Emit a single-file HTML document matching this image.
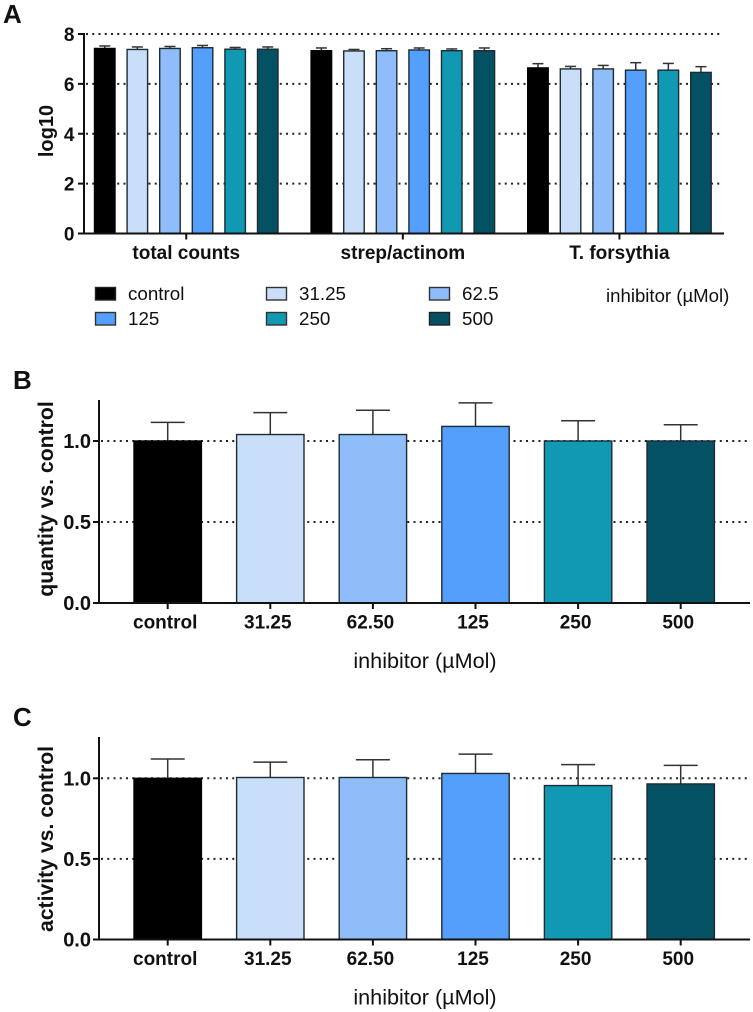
<!DOCTYPE html>
<html lang="en">
<head>
<meta charset="utf-8">
<title>Inhibitor effect on counts, quantity and activity</title>
<style>
html,body{margin:0;padding:0;background:#fff;width:753px;height:1012px;overflow:hidden}
svg{display:block}
text{font-family:"Liberation Sans",sans-serif;fill:#111}
.b{font-weight:700}
</style>
</head>
<body>
<svg id="fig" xmlns="http://www.w3.org/2000/svg" width="753" height="1012" viewBox="0 0 753 1012">
  <text class="b" x="3" y="23" font-size="26">A</text>
  <text class="b" x="13" y="389" font-size="26">B</text>
  <text class="b" x="13" y="726" font-size="26">C</text>
  <text x="128" y="300" font-size="18.8">control</text>
  <text x="299" y="300" font-size="18.8">31.25</text>
  <text x="462" y="300" font-size="18.8">62.5</text>
  <text x="128" y="325" font-size="18.8">125</text>
  <text x="299" y="325" font-size="18.8">250</text>
  <text x="462" y="325" font-size="18.8">500</text>
  <text x="606" y="302" font-size="18.6">inhibitor (µMol)</text>
  <rect x="95.5" y="287.5" width="20" height="12.5" fill="#000000" stroke="#222" stroke-width="1.4"/>
  <rect x="266.5" y="287.5" width="20" height="12.5" fill="#c9dff9" stroke="#333" stroke-width="1.4"/>
  <rect x="429.5" y="287.5" width="20" height="12.5" fill="#8fbdf9" stroke="#333" stroke-width="1.4"/>
  <rect x="95.5" y="312.5" width="20" height="12.5" fill="#559ffc" stroke="#333" stroke-width="1.4"/>
  <rect x="266.5" y="312.5" width="20" height="12.5" fill="#1199b4" stroke="#333" stroke-width="1.4"/>
  <rect x="429.5" y="312.5" width="20" height="12.5" fill="#045164" stroke="#222" stroke-width="1.4"/>
</svg>
<script>
const concentrationKeys = ['control', '31.25', '62.5', '125', '250', '500'];
const barColors = ['#000000', '#c9dff9', '#8fbdf9', '#559ffc', '#1199b4', '#045164'];

const groupLabels = ['total counts', 'strep/actinom', 'T. forsythia'];
const totalCounts = [7.42, 7.38, 7.42, 7.45, 7.39, 7.39];
const totalCountsErr = [7.52, 7.48, 7.50, 7.54, 7.46, 7.48];
const strepActinom = [7.33, 7.32, 7.33, 7.36, 7.33, 7.33];
const strepActinomErr = [7.44, 7.38, 7.41, 7.44, 7.40, 7.44];
const forsythia = [6.64, 6.60, 6.60, 6.55, 6.55, 6.46];
const forsythiaErr = [6.81, 6.70, 6.74, 6.85, 6.82, 6.69];
const ticksA = [0, 2, 4, 6, 8];
const gridA = [2, 4, 6, 8];

const doseLabels = ['control', '31.25', '62.50', '125', '250', '500'];
const quantity = [1.00, 1.04, 1.04, 1.09, 1.00, 1.00];
const quantityErr = [1.115, 1.175, 1.19, 1.235, 1.125, 1.10];
const activity = [1.00, 1.005, 1.005, 1.03, 0.955, 0.965];
const activityErr = [1.12, 1.10, 1.115, 1.15, 1.085, 1.08];
const ticksBC = ['0.0', '0.5', '1.0'];
const gridBC = [0.5, 1.0];

const NS = 'http://www.w3.org/2000/svg';
const fig = document.getElementById('fig');

function make(tag, attrs, text) {
  const el = document.createElementNS(NS, tag);
  for (const k in attrs) el.setAttribute(k, attrs[k]);
  if (text !== undefined) el.textContent = text;
  fig.appendChild(el);
  return el;
}

function drawBar(name, x, w, yTop, yBase, yErr, capW, color) {
  const mid = x + w / 2;
  const v = make('line', {x1: mid, x2: mid, y1: yErr, y2: yTop, stroke: '#333', 'stroke-width': 1.5});
  
  
  const c = make('line', {x1: mid - capW / 2, x2: mid + capW / 2, y1: yErr, y2: yErr, stroke: '#333', 'stroke-width': 1.5});
  
  
  const r = make('rect', {x: x, y: yTop, width: w, height: yBase - yTop, fill: color, stroke: color === '#000000' ? '#000' : '#1d2b33', 'stroke-width': 1.4});
  
  
}

function drawGrid(name, x1, x2, y) {
  const g = make('line', {x1: x1, x2: x2, y1: y, y2: y, stroke: '#222', 'stroke-width': 2, 'stroke-dasharray': '2 4.25'});
  
  
}

function drawAxisLine(name, x1, y1, x2, y2) {
  const a = make('line', {x1: x1, y1: y1, x2: x2, y2: y2, stroke: '#111', 'stroke-width': 2});
  
  
}

/* Panel A */
const yA = v => 233.5 - v * (199.5 / 8);
const groupX = g => 94.5 + g * 216.6;
const barXA = (g, i) => groupX(g) + i * 32.6;
const seriesA = [totalCounts, strepActinom, forsythia];
const errorsA = [totalCountsErr, strepActinomErr, forsythiaErr];

gridA.forEach(function (v) {
  drawGrid('grid-a-' + v, 86, 720, yA(v));
});
seriesA.forEach(function (vals, g) {
  vals.forEach(function (v, i) {
    drawBar('bar-a-' + g + '-' + concentrationKeys[i], barXA(g, i), 20.5, yA(v), yA(0), yA(errorsA[g][i]), 11, barColors[i]);
  });
});
drawAxisLine('y-axis-a', 84, yA(8) - 1, 84, yA(0) + 1);
drawAxisLine('x-axis-a', 78, yA(0), 724, yA(0));
ticksA.forEach(function (v) {
  drawAxisLine('y-tick-a-' + v, 78, yA(v), 84, yA(v));
  const t = make('text', {x: 74.5, y: yA(v) + 7, 'font-size': 19, 'text-anchor': 'end', class: 'b'}, String(v));
  
  
});
groupLabels.forEach(function (label, g) {
  const cx = barXA(g, 0) + (5 * 32.6 + 20.5) / 2;
  drawAxisLine('x-tick-a-' + g, cx, yA(0), cx, yA(0) + 6);
  const t = make('text', {x: cx, y: 259, 'font-size': 19, 'text-anchor': 'middle', class: 'b'}, label);
  
  
});
const titleA = make('text', {transform: 'translate(53 131) rotate(-90)', 'font-size': 20, 'text-anchor': 'middle', class: 'b'}, 'log10');



/* Panels B and C */
function drawDosePanel(p, y0, yOne, yTopAxis, vals, errs, yTitle, titleCy) {
  const y = v => y0 - v * (y0 - yOne);
  const cx = i => 167.7 + i * 102.6;
  gridBC.forEach(function (v) {
    drawGrid('grid-' + p + '-' + v, 101, 750, y(v));
  });
  vals.forEach(function (v, i) {
    drawBar('bar-' + p + '-' + doseLabels[i], cx(i) - 33.7, 67.4, y(v), y(0), y(errs[i]), 34, barColors[i]);
  });
  drawAxisLine('y-axis-' + p, 99, yTopAxis, 99, y(0) + 1);
  drawAxisLine('x-axis-' + p, 93, y(0), 750, y(0));
  ticksBC.forEach(function (label) {
    const v = parseFloat(label);
    drawAxisLine('y-tick-' + p + '-' + label, 93, y(v), 99, y(v));
    const t = make('text', {x: 91, y: y(v) + 7, 'font-size': 20, 'text-anchor': 'end', class: 'b'}, label);
    
    
  });
  doseLabels.forEach(function (label, i) {
    drawAxisLine('x-tick-' + p + '-' + label, cx(i), y(0), cx(i), y(0) + 6);
    const t = make('text', {x: cx(i) - 2.5, y: y(0) + 25.5, 'font-size': 19, 'text-anchor': 'middle', class: 'b'}, label);
    
    
  });
  const xt = make('text', {x: 425, y: y(0) + 65, 'font-size': 21.6, 'text-anchor': 'middle'}, 'inhibitor (µMol)');
  
  
  const yt = make('text', {transform: 'translate(53 ' + titleCy + ') rotate(-90)', 'font-size': 21.2, 'text-anchor': 'middle', class: 'b'}, yTitle);
  
  
}

drawDosePanel('b', 603, 441, 400, quantity, quantityErr, 'quantity vs. control', 499);
drawDosePanel('c', 939.5, 778.3, 737, activity, activityErr, 'activity vs. control', 839);
</script>
</body>
</html>
